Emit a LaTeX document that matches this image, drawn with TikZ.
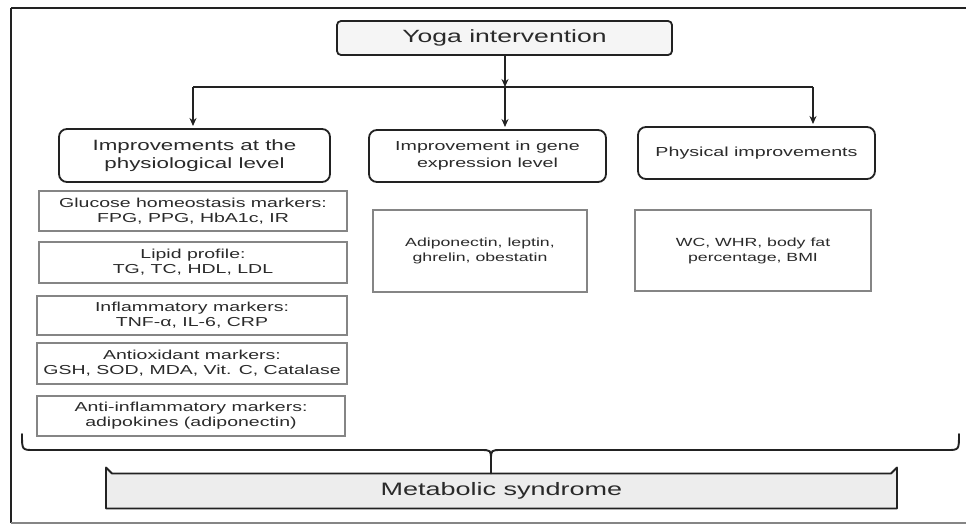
\documentclass[tikz,border=0pt]{standalone}
\usepackage{fontspec}
\newfontfamily\wf[FakeStretch=1.5]{Liberation Sans}
\usetikzlibrary{arrows.meta}
\definecolor{ink}{HTML}{222222}
\definecolor{txt}{HTML}{2a2a2a}
\definecolor{gline}{HTML}{858585}
\begin{document}
\begin{tikzpicture}[x=1pt,y=-1pt,
  every node/.style={inner sep=0pt,outer sep=0pt,align=center,text=txt},
  hdr/.style={draw=ink,line width=1.8pt,rounded corners=8pt,fill=white},
  cbox/.style={draw=gline,line width=1.3pt,fill=white},
  arr/.style={draw=ink,line width=1.7pt,-{Stealth[length=8pt,width=7pt]}},
  lnk/.style={draw=ink,line width=1.7pt}]
\useasboundingbox (0,0) rectangle (966,524);
\fill[white] (0,0) rectangle (966,524);
% frame
\draw[ink,line width=2.2pt] (11,8) -- (966,8);
\draw[ink,line width=2.4pt] (11,8) -- (11,523);
\draw[gline,line width=1.5pt] (11,523) -- (966,523);
% top
\node[draw=ink,line width=1.8pt,rounded corners=4pt,fill=black!4,minimum width=335pt,minimum height=34pt,font=\wf\fontsize{17.7}{20}\selectfont] (yoga) at (504.5,38) {Yoga intervention};
% headers
\node[hdr,minimum width=271pt,minimum height=53pt,font=\wf\fontsize{14.9}{18}\selectfont] (h1) at (194.5,155.5) {Improvements at the\\physiological level};
\node[hdr,minimum width=237pt,minimum height=52pt,font=\wf\fontsize{13.1}{17}\selectfont] (h2) at (487.5,156) {Improvement in gene\\expression level};
\node[hdr,minimum width=237pt,minimum height=52pt,font=\wf\fontsize{13.1}{17}\selectfont] (h3) at (756.5,153) {Physical improvements};
% connectors
\coordinate (jc) at (505,87);
\coordinate (jl) at (193,87);
\coordinate (jr) at (813,87);
\draw[arr] (yoga.south -| jc) -- (jc);
\draw[lnk] (jl) -- (jr);
\draw[arr,shorten >=3pt] (jl) -- (jl |- h1.north);
\draw[arr,shorten >=3pt] (jc) -- (jc |- h2.north);
\draw[arr,shorten >=3pt] (jr) -- (jr |- h3.north);
% left column
\begin{scope}[every node/.append style={cbox,font=\wf\fontsize{13}{15}\selectfont}]
\node[minimum width=308pt,minimum height=40pt] (c1) at (193,211) {Glucose homeostasis markers:\\FPG, PPG, HbA1c, IR};
\node[minimum width=308pt,minimum height=41pt] (c2) at (193,262.5) {Lipid profile:\\TG, TC, HDL, LDL};
\node[minimum width=310pt,minimum height=39pt] (c3) at (192,315.5) {Inflammatory markers:\\TNF-α, IL-6, CRP};
\node[minimum width=310pt,minimum height=41pt] (c4) at (192,363.5) {Antioxidant markers:\\GSH, SOD, MDA, Vit. C, Catalase};
\node[minimum width=308pt,minimum height=40pt] (c5) at (191,416) {Anti-inflammatory markers:\\adipokines (adiponectin)};
\end{scope}
% middle and right
\node[cbox,minimum width=214pt,minimum height=82pt,font=\wf\fontsize{11.8}{15}\selectfont] (m1) at (480,251) {Adiponectin, leptin,\\ghrelin, obestatin};
\node[cbox,minimum width=236pt,minimum height=81pt,font=\wf\fontsize{11.8}{15}\selectfont] (p1) at (753,250.5) {WC, WHR, body fat\\percentage, BMI};
% bottom
\node[minimum width=791pt,minimum height=35pt] (met) at (501.5,491) {};
\draw[ink,line width=1.8pt,fill=black!7,line join=round]
  (met.south west) -- ([yshift=6pt]met.north west) -- ([xshift=6pt]met.north west)
  -- ([xshift=-6pt]met.north east) -- ([yshift=6pt]met.north east) -- (met.south east) -- cycle;
\node[font=\wf\fontsize{18}{20}\selectfont] at (met.center) {Metabolic syndrome};
% brace
\coordinate (bl) at (22,434);
\coordinate (br) at (959,434);
\coordinate (bt) at (491,460);
\draw[ink,line width=1.9pt,line cap=round,line join=round]
  (bl) .. controls (22,450) and (22,450) .. (34,450) -- (480,450)
  .. controls (491,450) .. (bt) -- (bt |- met.north);
\draw[ink,line width=1.9pt,line cap=round,line join=round]
  (br) .. controls (959,450) and (959,450) .. (947,450) -- (502,450)
  .. controls (491,450) .. (bt);
\end{tikzpicture}
\end{document}
